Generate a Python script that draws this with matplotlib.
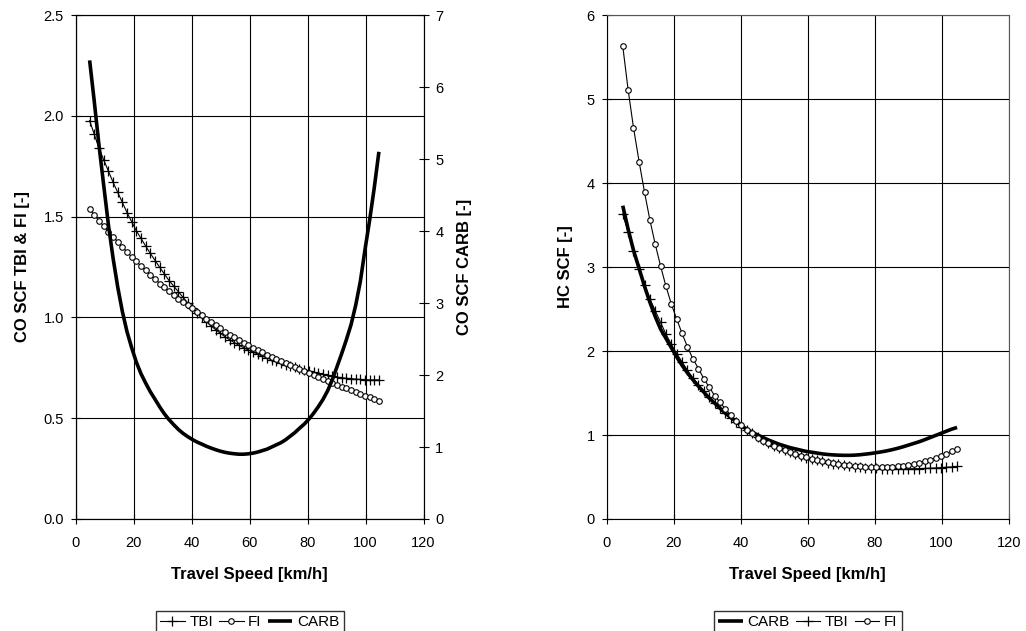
import matplotlib
matplotlib.use("Agg")
import matplotlib.pyplot as plt
from matplotlib.ticker import FormatStrFormatter

plt.rcParams['font.family'] = ['Liberation Sans', 'DejaVu Sans']

# travel speeds (km/h), one point per mph from 3 to 65 mph
speed = [4.8, 6.4, 8.0, 9.7, 11.3, 12.9, 14.5, 16.1, 17.7, 19.3,
         20.9, 22.5, 24.1, 25.7, 27.4, 29.0, 30.6, 32.2, 33.8, 35.4,
         37.0, 38.6, 40.2, 41.8, 43.5, 45.1, 46.7, 48.3, 49.9, 51.5,
         53.1, 54.7, 56.3, 57.9, 59.5, 61.2, 62.8, 64.4, 66.0, 67.6,
         69.2, 70.8, 72.4, 74.0, 75.6, 77.2, 78.9, 80.5, 82.1, 83.7,
         85.3, 86.9, 88.5, 90.1, 91.7, 93.3, 95.0, 96.6, 98.2, 99.8,
         101.4, 103.0, 104.6]

# CO speed correction factors
co_tbi = [1.976, 1.908, 1.840, 1.780, 1.725, 1.670, 1.620, 1.570, 1.520, 1.475,
          1.430, 1.392, 1.355, 1.318, 1.282, 1.248, 1.215, 1.183, 1.155, 1.128,
          1.100, 1.073, 1.048, 1.024, 1.001, 0.979, 0.958, 0.939, 0.921, 0.904,
          0.889, 0.875, 0.862, 0.850, 0.839, 0.828, 0.818, 0.808, 0.799, 0.790,
          0.782, 0.774, 0.766, 0.759, 0.752, 0.745, 0.739, 0.733, 0.727, 0.722,
          0.717, 0.712, 0.708, 0.704, 0.701, 0.698, 0.696, 0.694, 0.692, 0.691,
          0.690, 0.690, 0.690]
co_fi = [1.538, 1.508, 1.480, 1.452, 1.425, 1.400, 1.375, 1.350, 1.324, 1.300,
         1.278, 1.255, 1.233, 1.212, 1.190, 1.168, 1.149, 1.130, 1.111, 1.093,
         1.076, 1.060, 1.045, 1.028, 1.010, 0.993, 0.976, 0.960, 0.945, 0.930,
         0.915, 0.901, 0.888, 0.875, 0.862, 0.850, 0.838, 0.826, 0.815, 0.804,
         0.793, 0.782, 0.772, 0.762, 0.752, 0.742, 0.732, 0.723, 0.713, 0.704,
         0.695, 0.686, 0.677, 0.666, 0.657, 0.648, 0.639, 0.630, 0.621, 0.612,
         0.603, 0.594, 0.585]
co_carb = [6.37, 5.80, 5.20, 4.62, 4.08, 3.62, 3.22, 2.88, 2.60, 2.38,
           2.18, 2.02, 1.89, 1.77, 1.66, 1.555, 1.46, 1.38, 1.31, 1.245,
           1.19, 1.145, 1.105, 1.07, 1.04, 1.01, 0.985, 0.962, 0.942, 0.926,
           0.914, 0.906, 0.90, 0.90, 0.905, 0.915, 0.93, 0.95, 0.97, 1.00,
           1.03, 1.06, 1.10, 1.15, 1.20, 1.26, 1.32, 1.39, 1.47, 1.56,
           1.66, 1.78, 1.93, 2.11, 2.29, 2.48, 2.70, 2.97, 3.30, 3.74,
           4.15, 4.60, 5.10]

# HC speed correction factors
hc_carb = [3.73, 3.45, 3.20, 2.98, 2.77, 2.58, 2.41, 2.26, 2.15, 2.04,
           1.93, 1.83, 1.74, 1.66, 1.58, 1.51, 1.44, 1.38, 1.32, 1.26,
           1.21, 1.16, 1.11, 1.07, 1.03, 1.00, 0.97, 0.94, 0.915, 0.89,
           0.87, 0.85, 0.835, 0.82, 0.805, 0.795, 0.785, 0.775, 0.768, 0.763,
           0.76, 0.758, 0.758, 0.76, 0.765, 0.772, 0.78, 0.79, 0.80, 0.812,
           0.826, 0.842, 0.86, 0.88, 0.90, 0.92, 0.945, 0.97, 0.995, 1.02,
           1.045, 1.07, 1.09]
hc_tbi = [3.63, 3.42, 3.19, 2.98, 2.79, 2.62, 2.48, 2.34, 2.20, 2.08,
          1.97, 1.87, 1.77, 1.68, 1.60, 1.52, 1.45, 1.38, 1.32, 1.26,
          1.20, 1.15, 1.10, 1.06, 1.02, 0.98, 0.94, 0.91, 0.87, 0.845,
          0.82, 0.795, 0.77, 0.75, 0.732, 0.715, 0.70, 0.685, 0.672, 0.66,
          0.65, 0.64, 0.632, 0.624, 0.617, 0.611, 0.606, 0.602, 0.599, 0.597,
          0.596, 0.596, 0.596, 0.597, 0.598, 0.600, 0.602, 0.605, 0.608, 0.612,
          0.616, 0.620, 0.625]
hc_fi = [5.63, 5.11, 4.66, 4.25, 3.89, 3.56, 3.27, 3.01, 2.77, 2.56,
         2.38, 2.21, 2.05, 1.91, 1.79, 1.67, 1.57, 1.47, 1.39, 1.31,
         1.24, 1.17, 1.12, 1.06, 1.02, 0.97, 0.93, 0.90, 0.87, 0.845,
         0.82, 0.80, 0.77, 0.752, 0.735, 0.718, 0.703, 0.69, 0.677, 0.665,
         0.655, 0.647, 0.64, 0.633, 0.628, 0.624, 0.621, 0.62, 0.62, 0.621,
         0.624, 0.628, 0.634, 0.643, 0.655, 0.668, 0.685, 0.705, 0.728, 0.752,
         0.778, 0.804, 0.83]

fig = plt.figure(figsize=(10.26, 6.31), dpi=100)
ax1 = fig.add_axes([0.0738, 0.1775, 0.339, 0.7987])
ax2 = fig.add_axes([0.5913, 0.1775, 0.3918, 0.7987])

tbi_kw = dict(color='black', lw=0.8, marker='+', ms=7, mew=0.9)
fi_kw = dict(color='black', lw=0.8, marker='o', ms=4, mfc='white', mec='black', mew=0.8)
carb_kw = dict(color='black', lw=2.6, solid_capstyle='butt')


def style(ax, ymax, ystep):
    ax.set_xlim(0, 120)
    ax.set_ylim(0, ymax)
    ax.set_xticks(range(0, 121, 20))
    ax.set_yticks([i * ystep for i in range(int(round(ymax / ystep)) + 1)])
    ax.grid(True, color='black', lw=0.8)
    ax.set_axisbelow(True)
    ax.tick_params(direction='inout', length=7, width=0.8, labelsize=10.5, pad=5)
    ax.tick_params(axis='x', pad=9)
    for s in ['top', 'right']:
        ax.spines[s].set_color('#555555')
    ax.set_xlabel('Travel Speed [km/h]', fontsize=12, fontweight='bold', labelpad=12)


# left: CO
style(ax1, 2.5, 0.5)
ax1.yaxis.set_major_formatter(FormatStrFormatter('%.1f'))
h1, = ax1.plot(speed, co_tbi, label='TBI', **tbi_kw)
h2, = ax1.plot(speed, co_fi, label='FI', **fi_kw)
ax1.set_ylabel('CO SCF TBI & FI [-]', fontsize=12, fontweight='bold', labelpad=10)
ax1b = ax1.twinx()
ax1b.set_ylim(0, 7)
ax1b.set_yticks(range(0, 8))
ax1b.tick_params(direction='inout', length=7, width=0.8, labelsize=10.5, pad=5)
h3, = ax1b.plot(speed, co_carb, label='CARB', **carb_kw)
ax1b.set_ylabel('CO SCF CARB [-]', fontsize=12, fontweight='bold', labelpad=10)
ax1.legend(handles=[h1, h2, h3], loc='center', bbox_to_anchor=(0.5, -0.205),
           ncol=3, frameon=True, fancybox=False, edgecolor='black', fontsize=11,
           handlelength=1.6, handletextpad=0.3, columnspacing=0.4,
           borderpad=0.3, borderaxespad=0)

# right: HC
style(ax2, 6, 1)
g1, = ax2.plot(speed, hc_carb, label='CARB', **carb_kw)
g2, = ax2.plot(speed, hc_tbi, label='TBI', **tbi_kw)
g3, = ax2.plot(speed, hc_fi, label='FI', **fi_kw)
ax2.set_ylabel('HC SCF [-]', fontsize=12, fontweight='bold', labelpad=10)
ax2.legend(handles=[g1, g2, g3], loc='center', bbox_to_anchor=(0.5, -0.205),
           ncol=3, frameon=True, fancybox=False, edgecolor='black', fontsize=11,
           handlelength=1.6, handletextpad=0.3, columnspacing=0.4,
           borderpad=0.3, borderaxespad=0)

fig.savefig('out.png', dpi=100)
